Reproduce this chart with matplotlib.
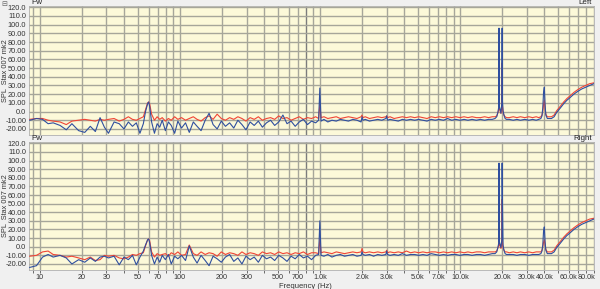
import matplotlib.pyplot as plt
from matplotlib.ticker import FixedLocator, NullFormatter

plt.rcParams['font.family'] = ['Liberation Sans', 'DejaVu Sans']

# frequency points (Hz) shared by all traces
freq = [
    8.5, 9.5, 10.5, 11.5, 12.5, 14, 15.5, 17, 19, 21,
    23, 25, 27, 29, 31, 34, 37, 40, 43, 46,
    49, 52, 55, 57, 59, 60, 61, 63, 66, 69,
    72, 75, 79, 83, 87, 92, 97, 103, 110, 117,
    125, 133, 142, 152, 162, 173, 185, 198, 212, 227,
    243, 260, 278, 297, 318, 340, 364, 389, 416, 445,
    476, 509, 545, 583, 623, 667, 713, 763, 816, 873,
    934, 980, 1000, 1020, 1070, 1140, 1220, 1310, 1400, 1500,
    1600, 1720, 1840, 1970, 2000, 2030, 2110, 2260, 2420, 2590,
    2770, 2960, 3000, 3040, 3170, 3390, 3630, 3880, 4150, 4440,
    4750, 5080, 5440, 5820, 6230, 6660, 7130, 7630, 8160, 8730,
    9340, 10000, 10700, 11400, 12200, 13100, 14000, 15000, 16000, 17000,
    17800, 18300, 18700, 18900, 19000, 19100, 19300, 19600, 19900, 20000,
    20100, 20300, 20600, 21000, 21500, 22500, 24000, 25500, 27000, 29000,
    31000, 33000, 35000, 36500, 37800, 38500, 39000, 39500, 40000, 40500,
    41000, 42000, 43500, 45000, 47000, 49000, 52000, 55000, 58000, 61000,
    65000, 69000, 74000, 79000, 84000, 90000,
]

left_red = [
    -9, -8, -8, -10, -11, -12, -15, -11, -10, -9,
    -10, -11, -9, -10, -9, -8, -11, -9, -6, -9,
    -10, -8, -6, 2, 10, 11, 9, -3, -10, -6,
    -9, -7, -11, -8, -10, -6, -9, -7, -10, -8,
    -6, -9, -11, -7, -5, -9, -3, -8, -10, -7,
    -9, -6, -8, -11, -7, -9, -6, -10, -8, -7,
    -9, -5, -8, -7, -10, -8, -6, -9, -7, -8,
    -6, -8, 8, -7, -6, -8, -7, -6, -8, -7,
    -6, -7, -8, -6, -4, -7, -6, -8, -7, -6,
    -7, -6, -5, -7, -6, -8, -7, -6, -7, -6,
    -7, -6, -7, -8, -6, -7, -6, -7, -6, -7,
    -6, -7, -6, -7, -6, -7, -7, -6, -7, -6,
    -6, -5, -1, 3, 60, 4, 1, -2, 5, 56,
    6, -1, -4, -6, -7, -7, -6, -7, -6, -7,
    -6, -7, -6, -7, -6, -4, 0, 8, 13, 4,
    -3, -6, -6, -6, -4, 1, 6, 11, 15, 18,
    22, 25, 28, 30, 32, 33,
]

left_blue = [
    -10, -8, -9, -14, -13, -16, -21, -14, -22, -24,
    -17, -23, -7, -18, -25, -12, -14, -20, -12, -17,
    -13, -25, -14, 0, 9, 11, 6, -12, -25, -14,
    -18, -10, -22, -12, -16, -25, -11, -19, -13, -24,
    -12, -17, -22, -10, -2, -15, -20, -11, -17, -13,
    -19, -10, -15, -21, -12, -16, -11, -18, -13, -10,
    -16, -12, -4, -14, -11, -17, -12, -9, -15, -11,
    -13, -10, 27, -11, -9, -12, -10, -11, -9, -10,
    -11, -9, -10, -12, -6, -10, -9, -11, -10, -9,
    -10, -8, -5, -10, -9, -10, -11, -9, -10, -9,
    -10, -9, -10, -11, -9, -10, -9, -10, -8, -10,
    -9, -10, -9, -10, -9, -10, -9, -10, -9, -9,
    -8, -6, 0, 5, 96, 6, 3, -2, 10, 96,
    12, 1, -4, -8, -9, -9, -10, -9, -10, -9,
    -10, -9, -10, -9, -8, -5, 4, 22, 28, 8,
    -4, -8, -8, -8, -6, -1, 4, 9, 13, 16,
    20, 23, 26, 28, 30, 32,
]

right_red = [
    -11, -10, -6, -5, -9, -10, -12, -11, -13, -15,
    -12, -16, -15, -10, -11, -10, -13, -14, -12, -9,
    -10, -8, -7, 1, 8, 9, 7, -6, -12, -8,
    -10, -9, -8, -11, -7, -9, -6, -10, -9, 2,
    -8, -10, -6, -9, -7, -8, -11, -6, -9, -7,
    -8, -10, -6, -9, -7, -8, -10, -6, -8, -7,
    -9, -6, -8, -7, -9, -7, -8, -6, -9, -7,
    -7, -8, 9, -7, -6, -7, -8, -6, -7, -8,
    -7, -6, -7, -6, -2, -6, -7, -6, -7, -6,
    -7, -6, -4, -7, -6, -7, -6, -7, -5, -7,
    -6, -7, -6, -7, -6, -6, -7, -6, -7, -6,
    -7, -6, -7, -6, -7, -6, -6, -7, -6, -6,
    -6, -5, -1, 2, 57, 3, 1, -2, 4, 55,
    5, -1, -4, -6, -6, -7, -6, -7, -6, -7,
    -6, -7, -6, -6, -6, -4, 0, 5, 8, 3,
    -3, -6, -6, -6, -4, 1, 6, 11, 15, 18,
    22, 25, 28, 30, 32, 33,
]

right_blue = [
    -24, -22, -12, -9, -12, -10, -13, -20, -15, -18,
    -13, -17, -12, -11, -13, -11, -21, -12, -15, -10,
    -21, -12, -5, 2, 8, 9, 5, -10, -20, -12,
    -18, -10, -15, -9, -20, -11, -14, -10, -16, 1,
    -12, -19, -10, -16, -22, -11, -14, -18, -12, -9,
    -17, -13, -20, -11, -15, -12, -18, -10, -14, -12,
    -16, -10, -13, -17, -11, -14, -9, -13, -11, -15,
    -10, -9, 30, -10, -11, -9, -12, -10, -9, -11,
    -10, -9, -11, -10, -6, -9, -10, -9, -11, -9,
    -10, -9, -5, -9, -10, -9, -10, -8, -10, -9,
    -9, -10, -9, -10, -8, -9, -10, -9, -10, -9,
    -9, -10, -9, -9, -10, -9, -9, -10, -9, -8,
    -8, -6, 0, 4, 97, 6, 3, -1, 8, 97,
    55, 2, -4, -8, -9, -9, -9, -10, -9, -9,
    -10, -9, -9, -9, -8, -5, 2, 18, 23, 6,
    -4, -8, -8, -8, -6, -1, 4, 9, 13, 16,
    20, 23, 26, 28, 30, 32,
]

ytick_vals = [120, 110, 100, 90, 80, 70, 60, 50, 40, 30, 20, 10, 0, -10, -20]
ytick_labels = ["120.0", "110.0", "100.0", "90.00", "80.00", "70.00", "60.00",
                "50.00", "40.00", "30.00", "20.00", "10.00", "0.0", "-10.00", "-20.00"]
xtick_vals = [10, 20, 30, 50, 70, 100, 200, 300, 500, 700, 1000, 2000, 3000,
              5000, 7000, 10000, 20000, 30000, 40000, 60000, 80000]
xtick_labels = ["10", "20", "30", "50", "70", "100", "200", "300", "500", "700",
                "1.0k", "2.0k", "3.0k", "5.0k", "7.0k", "10.0k", "20.0k",
                "30.0k", "40.0k", "60.0k", "80.0k"]

RED = '#f04535'
BLUE = '#2f4f9f'
FACE = '#fcf9d9'
GRID = '#a6a69a'
TXT = '#333333'

# vertical grid at 1..9 x decade
grid_x = [m * 10 ** e for e in range(0, 5) for m in range(1, 10)]
grid_x = [g for g in grid_x if 8.4 < g < 90500]

fig = plt.figure(figsize=(6.0, 2.89), dpi=100)
fig.patch.set_facecolor('#f0f0f0')

W, H = 600.0, 289.0
x0, x1 = 29, 594


def make_panel(top, bottom, red, blue, side, show_x):
    ax = fig.add_axes([x0 / W, (H - bottom) / H, (x1 - x0) / W, (bottom - top) / H])
    ax.set_facecolor(FACE)
    ax.set_xscale('log')
    ax.set_xlim(8.4, 90500)
    ax.set_ylim(-27, 121.5)
    for g in grid_x:
        c = '#7c7c7c' if g == 800 else GRID
        ax.axvline(g, color=c, lw=1.0, zorder=1)
    for v in ytick_vals:
        ax.axhline(v, color=GRID, lw=1.0, zorder=1)
    ax.plot(freq, red, color=RED, lw=0.8, zorder=3)
    ax.plot(freq, blue, color=BLUE, lw=0.8, zorder=4)

    ax.yaxis.set_major_locator(FixedLocator(ytick_vals))
    ax.set_yticklabels(ytick_labels)
    ax.tick_params(axis='y', length=0, pad=2, labelsize=5.3, labelcolor=TXT)
    ax.xaxis.set_minor_locator(FixedLocator(grid_x))
    ax.xaxis.set_minor_formatter(NullFormatter())
    if show_x:
        ax.xaxis.set_major_locator(FixedLocator(xtick_vals))
        ax.set_xticklabels(xtick_labels)
        ax.tick_params(axis='x', which='both', length=2, width=0.6, pad=1,
                       labelsize=5.2, labelcolor=TXT, color='#555555')
        fig.text(305 / W, 1 - 286 / H, 'Frequency (Hz)', fontsize=5.5,
                 ha='center', va='center', color=TXT)
    else:
        ax.xaxis.set_major_locator(FixedLocator([]))
        ax.tick_params(axis='x', which='both', length=0)
    for s in ax.spines.values():
        s.set_color('#b0b0b0')
        s.set_linewidth(0.6)
    fig.text(6 / W, 1 - (top + bottom) / 2 / H, 'SPL  Stax 007 mk2', fontsize=5.3,
             rotation=90, ha='center', va='center', color=TXT)
    fig.text((x0 + 2) / W, 1 - (top - 3) / H, 'Pw', fontsize=5.8, va='center', ha='left', color='#222222')
    fig.text((x1 - 2) / W, 1 - (top - 3) / H, side, fontsize=5.8, va='center', ha='right', color='#222222')
    return ax


make_panel(6, 135, left_red, left_blue, 'Left', False)
make_panel(142, 270, right_red, right_blue, 'Right', True)

fig.text(4 / W, 1 - 4 / H, '\u229f', fontsize=5, va='center', ha='center',
         color='#666666', family='DejaVu Sans')

fig.savefig('out.png', dpi=100, facecolor=fig.get_facecolor())
